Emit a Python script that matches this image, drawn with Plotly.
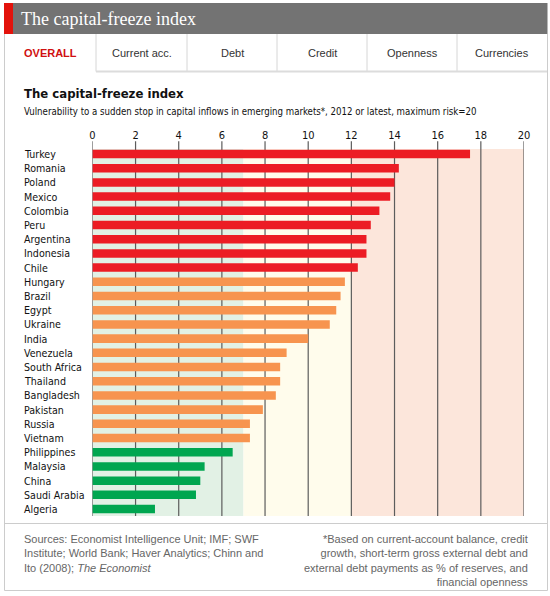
import plotly.graph_objects as go

countries = ["Turkey", "Romania", "Poland", "Mexico", "Colombia", "Peru", "Argentina",
             "Indonesia", "Chile", "Hungary", "Brazil", "Egypt", "Ukraine", "India",
             "Venezuela", "South Africa", "Thailand", "Bangladesh", "Pakistan", "Russia",
             "Vietnam", "Philippines", "Malaysia", "China", "Saudi Arabia", "Algeria"]
index_values = [17.5, 14.2, 14.0, 13.8, 13.3, 12.9, 12.7, 12.7, 12.3, 11.7, 11.5, 11.3,
                11.0, 10.0, 9.0, 8.7, 8.7, 8.5, 7.9, 7.3, 7.3, 6.5, 5.2, 5.0, 4.8, 2.9]
risk_bands = [(0, 7, "#E2F1E5"), (7, 12, "#FFFCEC"), (12, 20, "#FCE6DB")]
tick_values = list(range(0, 21, 2))
tabs = ["OVERALL", "Current acc.", "Debt", "Credit", "Openness", "Currencies"]

W, H = 550, 596
def X(px): return px / W
def Y(py): return 1 - py / H

def bar_color(v):
    if v > 12: return "#EC1C24"
    if v >= 7: return "#F7944F"
    return "#00A650"

COND = "DejaVu Sans Condensed, Liberation Sans Narrow, sans-serif"
SANS = "Liberation Sans, Arial, sans-serif"

fig = go.Figure()
fig.add_trace(go.Bar(
    y=countries, x=index_values, orientation="h",
    marker=dict(color=[bar_color(v) for v in index_values], line=dict(width=0)),
    width=0.6, hoverinfo="x+y"))

shapes = []
for x0, x1, c in risk_bands:
    shapes.append(dict(type="rect", xref="x", yref="y domain", x0=x0, x1=x1, y0=0, y1=1,
                       fillcolor=c, line=dict(width=0), layer="below"))
for v in tick_values:
    shapes.append(dict(type="line", xref="x", yref="y domain", x0=v, x1=v, y0=0, y1=1.021,
                       line=dict(color="#5c5c5c", width=1.2), layer="below"))

def pline(x0, y0, x1, y1, color="#cccccc", width=1):
    shapes.append(dict(type="line", xref="paper", yref="paper", x0=X(x0), x1=X(x1),
                       y0=Y(y0), y1=Y(y1), line=dict(color=color, width=width)))

def prect(x0, y0, x1, y1, color):
    shapes.append(dict(type="rect", xref="paper", yref="paper", x0=X(x0), x1=X(x1),
                       y0=Y(y0), y1=Y(y1), fillcolor=color, line=dict(width=0)))

# Title bar
prect(4, 3, 547.5, 34, "#737373")
prect(4, 3, 13, 34, "#E3120B")
# Outer frame
pline(4.5, 34, 4.5, 590.5)
pline(547.5, 34, 547.5, 590.5)
pline(4.5, 590.5, 547.5, 590.5)
# Tabs
tab_edges = [4, 96, 187, 277, 367, 457, 547]
for e in tab_edges[1:-1]:
    pline(e, 34, e, 71.5, "#d6d6d6")
pline(96, 71.5, 547, 71.5, "#dcdcdc", 2)
# Footer separator
pline(4.5, 523.5, 547.5, 523.5, "#cccccc")

annotations = []
annotations.append(dict(text="The capital-freeze index", x=X(19), y=Y(19), xref="paper", yref="paper",
                        xanchor="left", yanchor="middle", showarrow=False,
                        font=dict(family="Liberation Serif, DejaVu Serif, serif", size=18, color="white")))
for i, t in enumerate(tabs):
    cx = (tab_edges[i] + tab_edges[i + 1]) / 2
    if i == 0:
        txt, col = "<b>" + t + "</b>", "#D01010"
    else:
        txt, col = t, "#333333"
    annotations.append(dict(text=txt, x=X(cx), y=Y(53), xref="paper", yref="paper",
                            xanchor="center", yanchor="middle", showarrow=False,
                            font=dict(family=SANS, size=11, color=col)))
annotations.append(dict(text="<b>The capital-freeze index</b>", x=X(22), y=Y(94), xref="paper",
                        yref="paper", xanchor="left", yanchor="middle", showarrow=False,
                        font=dict(family=COND, size=13, color="#111111")))
annotations.append(dict(text="Vulnerability to a sudden stop in capital inflows in emerging markets*, 2012 or latest, maximum risk=20",
                        x=X(22), y=Y(112), xref="paper", yref="paper", xanchor="left", yanchor="middle",
                        showarrow=False, font=dict(family=COND, size=9.6, color="#111111")))
for c in countries:
    annotations.append(dict(text=c, x=X(22), y=c, xref="paper", yref="y", xanchor="left",
                            yanchor="middle", showarrow=False,
                            font=dict(family=COND, size=10.6, color="#111111")))
annotations.append(dict(text="Sources: Economist Intelligence Unit; IMF; SWF<br>Institute; World Bank; Haver Analytics; Chinn and<br>Ito (2008); <i>The Economist</i>",
                        x=X(22), y=Y(531), xref="paper", yref="paper", xanchor="left", yanchor="top",
                        align="left", showarrow=False, font=dict(family=SANS, size=11, color="#666666")))
annotations.append(dict(text="*Based on current-account balance, credit<br>growth, short-term gross external debt and<br>external debt payments as % of reserves, and<br>financial openness",
                        x=X(530), y=Y(531), xref="paper", yref="paper", xanchor="right", yanchor="top",
                        align="right", showarrow=False, font=dict(family=SANS, size=11, color="#666666")))

fig.update_layout(
    width=W, height=H, margin=dict(l=0, r=0, t=0, b=0, autoexpand=False),
    paper_bgcolor="white", plot_bgcolor="rgba(0,0,0,0)",
    showlegend=False, bargap=0.4,
    shapes=shapes, annotations=annotations,
    xaxis=dict(domain=[X(92.4), X(524)], range=[0, 20], side="top", tickvals=tick_values,
               showgrid=False, zeroline=False, showline=False, ticks="", ticklabelstandoff=7,
               automargin=False, tickfont=dict(family=COND, size=11, color="#111111")),
    yaxis=dict(domain=[Y(516), Y(149)], range=[25.49, -0.352], showticklabels=False,
               automargin=False, showgrid=False, zeroline=False, showline=False, ticks=""),
)

fig.write_html("out.html", config={"displayModeBar": False, "responsive": False},
               post_script="document.body.style.margin='0';document.body.style.overflow='hidden';document.documentElement.style.overflow='hidden';")
